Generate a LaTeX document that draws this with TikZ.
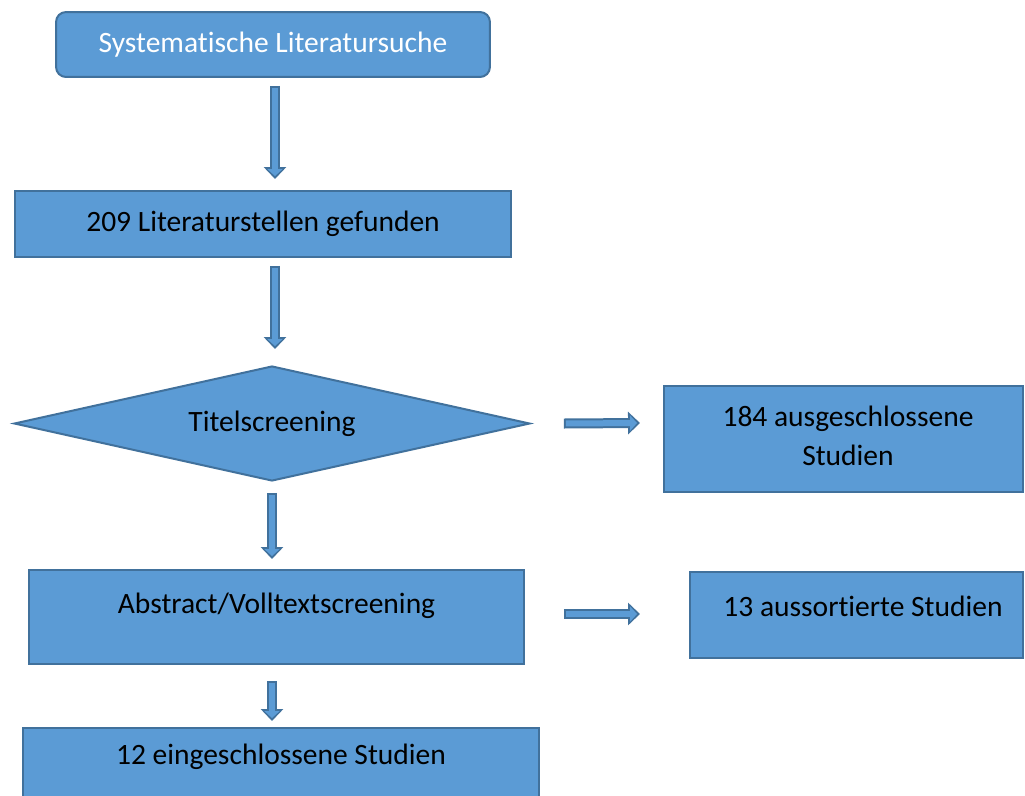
\documentclass[tikz,border=0pt]{standalone}
\usepackage{fontspec}
\setmainfont{Carlito}[Ligatures=NoCommon]
\usetikzlibrary{calc,shapes.geometric,arrows.meta}
\definecolor{fuell}{HTML}{5B9BD5}
\definecolor{rand}{HTML}{41719C}
\newcommand{\randbreite}{0.04cm}

\begin{document}
\begin{tikzpicture}[x=0.02cm, y=-0.02cm,
    font=\fontsize{16.8}{22}\selectfont,
    kasten/.style={draw=rand, fill=fuell, line width=\randbreite, inner sep=0pt, align=center},
    raute/.style={kasten, diamond, aspect=4.49},
    pfeil/.style={draw=rand, line width=0.2cm, -{Triangle[length=0.24cm,width=0.44cm]},
        postaction={draw=fuell, line width=0.12cm, shorten >=0.06cm, shorten <=0.04cm,
            -{Triangle[length=0.14cm,width=0.3cm]}}}]
    \useasboundingbox (0,0) rectangle (1025,795);

    %Kaesten
    \node[kasten, rounded corners=0.2cm, text=white, minimum width=8.68cm, minimum height=1.3cm] (suche) at (273,44.5) {Systematische Literatursuche};
    \node[kasten, minimum width=9.92cm, minimum height=1.32cm] (funde) at (263,224) {209 Literaturstellen gefunden};
    \node[raute, minimum width=10.32cm, minimum height=2.3cm] (titel) at (272,423.5) {Titelscreening};
    \node[kasten, minimum width=7.18cm, minimum height=2.12cm,
        label={[align=center, xshift=0.09cm, yshift=0.06cm]center:184 ausgeschlossene\\Studien}] (ausgeschl) at (843.5,439) {};
    \node[kasten, minimum width=9.9cm, minimum height=1.88cm,
        label={[yshift=0.22cm]center:Abstract/Volltextscreening}] (abstract) at (276.5,617) {};
    \node[kasten, minimum width=6.66cm, minimum height=1.72cm,
        label={[xshift=0.13cm, yshift=0.18cm]center:13 aussortierte Studien}] (aussort) at (856.5,615) {};
    \node[kasten, minimum width=10.32cm, minimum height=1.44cm,
        label={[yshift=0.14cm]center:12 eingeschlossene Studien}] (eingeschl) at (281,764) {};

    %Pfeile
    \draw[pfeil] ($(suche.south)+(2,8)$) -- ($(funde.north)+(12,-11)$);
    \draw[pfeil] ($(funde.south)+(12,8)$) -- ($(titel.north)+(3,-16)$);
    \draw[pfeil] ($(titel.east)+(33,0)$) -- ($(ausgeschl.west)+(-23,-16)$);
    \draw[pfeil] ($(titel.south)+(0,11)$) -- ($(abstract.north)+(-4.5,-10)$);
    \draw[pfeil] ($(abstract.east)+(39,-3)$) -- ($(aussort.west)+(-49,-1)$);
    \draw[pfeil] ($(abstract.south)+(-4.5,16)$) -- ($(eingeschl.north)+(-9,-6)$);
\end{tikzpicture}
\end{document}
